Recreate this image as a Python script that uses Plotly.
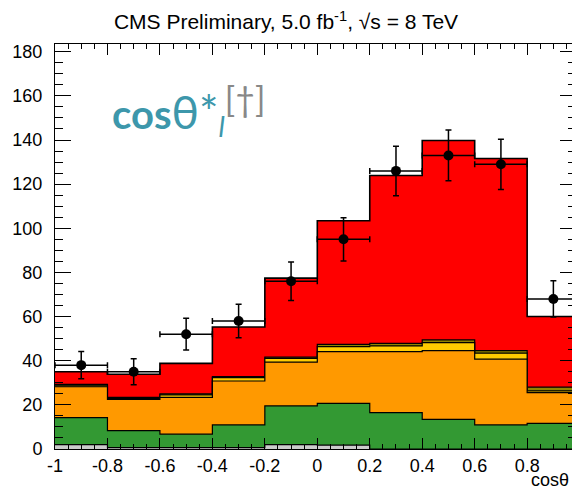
import plotly.graph_objects as go
import numpy as np

# ---- data ----
bin_edges = [-1.0, -0.8, -0.6, -0.4, -0.2, 0.0, 0.2, 0.4, 0.6, 0.8, 1.0]
bin_centers = [-0.9, -0.7, -0.5, -0.3, -0.1, 0.1, 0.3, 0.5, 0.7, 0.9]

# stacked components, bottom to top
grey = [2.0, 0.6, 0.6, 0.6, 2.0, 1.8, 0.0, 0.0, 0.0, 0.0]
green = [12.2, 7.7, 6.1, 10.3, 17.5, 18.9, 16.5, 13.4, 10.9, 11.6]
orange = [14.0, 14.2, 16.7, 19.9, 19.9, 23.4, 27.6, 31.2, 29.8, 13.9]
yellow = [0.4, 0.3, 1.1, 1.5, 1.7, 2.3, 2.6, 3.6, 2.7, 0.8]
olive = [0.7, 0.6, 0.5, 0.5, 0.5, 1.0, 1.2, 1.2, 1.2, 1.7]
red = [5.7, 10.5, 13.8, 22.5, 35.8, 56.0, 76.0, 90.4, 87.0, 32.0]

data_counts = [38, 35, 52, 58, 76, 95, 126, 133, 129, 68]
data_errors = [6.2, 5.9, 7.2, 7.6, 8.7, 9.8, 11.2, 11.5, 11.4, 8.2]

x_tickvals = [-1.0, -0.8, -0.6, -0.4, -0.2, 0.0, 0.2, 0.4, 0.6, 0.8]
x_ticktext = ["-1", "-0.8", "-0.6", "-0.4", "-0.2", "0", "0.2", "0.4", "0.6", "0.8"]
y_tickvals = [0, 20, 40, 60, 80, 100, 120, 140, 160, 180]

components = [
    ("grey", grey, "#cccccc"),
    ("green", green, "#339933"),
    ("orange", orange, "#ff9900"),
    ("yellow", yellow, "#ffcc00"),
    ("olive", olive, "#8f8400"),
    ("red", red, "#ff0000"),
]

FONT = "Liberation Sans, Arial, Helvetica, sans-serif"

fig = go.Figure()

# cumulative tops
cum = np.zeros(len(bin_centers))
tops = []
for name, vals, color in components:
    cum = cum + np.array(vals)
    tops.append((name, cum.copy(), color))

# draw from the largest cumulative down (THStack style)
for name, top, color in reversed(tops):
    yv = list(top) + [top[-1]]
    fig.add_trace(go.Scatter(
        x=bin_edges, y=yv, mode="lines", line_shape="hv",
        line=dict(color="black", width=1.2 if name != "red" else 1.6),
        fill="tozeroy", fillcolor=color, showlegend=False, hoverinfo="skip",
    ))

# data points
fig.add_trace(go.Scatter(
    x=bin_centers, y=data_counts, mode="markers",
    marker=dict(color="black", size=10),
    error_y=dict(type="data", array=data_errors, color="black", thickness=1.5, width=3),
    error_x=dict(type="constant", value=0.1, color="black", thickness=1.5, width=3),
    showlegend=False,
))

# invisible trace to activate right-hand tick axis
fig.add_trace(go.Scatter(x=[0], y=[0], yaxis="y2", mode="markers",
                         marker=dict(opacity=0), showlegend=False, hoverinfo="skip"))

fig.update_layout(
    width=572, height=491,
    margin=dict(l=55, r=0, t=44, b=42),
    paper_bgcolor="white", plot_bgcolor="white",
    font=dict(family=FONT, color="black", size=18),
    title=dict(
        text="CMS Preliminary, 5.0 fb<sup>-1</sup>, √s = 8 TeV",
        x=0.5, xanchor="center", y=1 - 22 / 491, yanchor="middle", yref="container",
        font=dict(family=FONT, size=21, color="black"),
    ),
    xaxis=dict(
        range=[-1, 0.971], tickmode="array", tickvals=x_tickvals, ticktext=x_ticktext,
        ticks="inside", ticklen=11, tickwidth=1, tickcolor="black",
        showline=True, linecolor="black", linewidth=1, mirror="ticks",
        showgrid=False, zeroline=False,
        tickfont=dict(family=FONT, size=18, color="black"),
        minor=dict(tickmode="linear", tick0=-1, dtick=0.05, ticks="inside", ticklen=5,
                   tickwidth=1, tickcolor="black", showgrid=False),
    ),
    yaxis=dict(
        range=[0, 183.5], tickmode="array", tickvals=y_tickvals,
        ticks="inside", ticklen=16, tickwidth=1, tickcolor="black",
        showline=True, linecolor="black", linewidth=1, mirror=False,
        showgrid=False, zeroline=False, ticklabelstandoff=8,
        tickfont=dict(family=FONT, size=18, color="black"),
        minor=dict(tickmode="linear", tick0=0, dtick=5, ticks="inside", ticklen=8,
                   tickwidth=1, tickcolor="black", showgrid=False),
    ),
    yaxis2=dict(
        overlaying="y", side="right", anchor="free", position=1,
        range=[0, 183.5], tickmode="array", tickvals=y_tickvals,
        ticks="inside", ticklen=12, tickwidth=1, tickcolor="black",
        showline=False, showgrid=False, zeroline=False, showticklabels=False,
        minor=dict(tickmode="linear", tick0=0, dtick=5, ticks="inside", ticklen=4,
                   tickwidth=1, tickcolor="black", showgrid=False),
    ),
)

# big label
fig.add_annotation(
    xref="paper", yref="paper", x=(110 - 55) / 517, y=(449 - 110) / 405,
    xanchor="left", yanchor="middle", showarrow=False,
    text=("<b>cos</b><span style='font-size:46px'>θ*</span>"
          "<sub><i>l</i></sub>"
          "<sup><span style='color:#888888;font-size:34px'>[†]</span></sup>"),
    font=dict(family="Lato, Open Sans, sans-serif", size=40, color="#3d97ab"),
)

# x axis title (right aligned)
fig.add_annotation(
    xref="paper", yref="paper", x=1, y=-(480 - 449) / 405,
    xanchor="right", yanchor="middle", showarrow=False, xshift=-1,
    text="cosθ", font=dict(family=FONT, size=18, color="black"),
)

fig.write_html("out.html")
